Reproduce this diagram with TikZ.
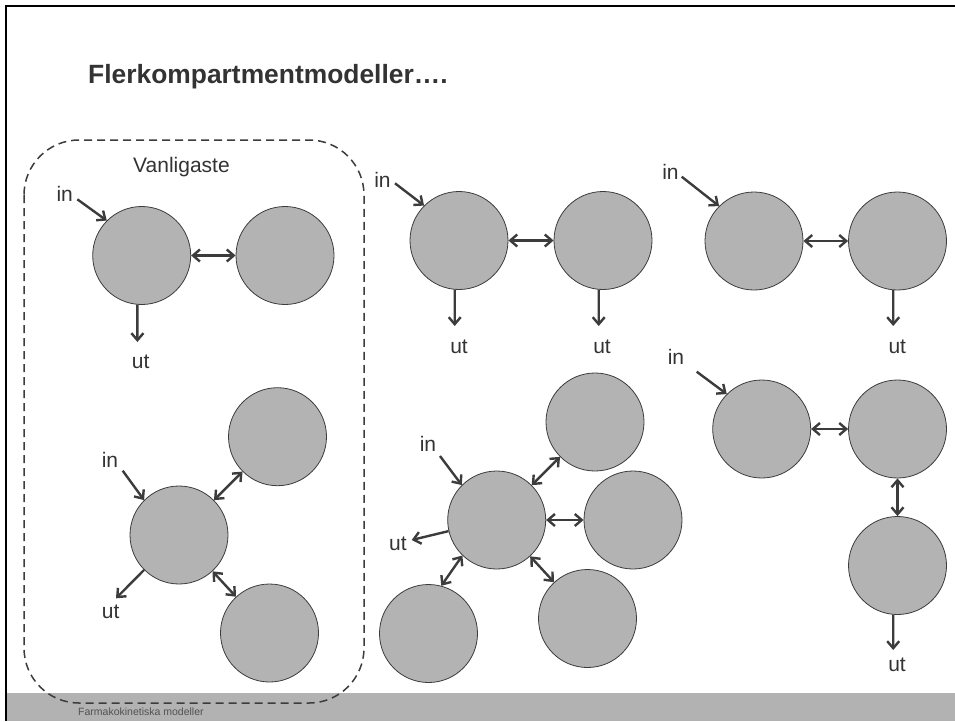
\documentclass[tikz,border=0pt]{standalone}
\usepackage{fontspec}
\setmainfont{Liberation Sans}
\usetikzlibrary{arrows.meta}
\definecolor{cfill}{HTML}{B2B3B2}
\definecolor{cline}{HTML}{3C3C3C}
\definecolor{ctext}{HTML}{333333}
\definecolor{band}{HTML}{B2B2B2}
\begin{document}
\begin{tikzpicture}[x=1pt,y=-1pt,
 comp/.style={circle,draw=cline,line width=0.8pt,fill=cfill,minimum size=98pt,inner sep=0pt},
 lbl/.style={text=ctext,font=\fontsize{21}{25}\selectfont,anchor=base,inner sep=0pt},
 flow/.style={draw=cline,line width=2.4pt,-{Straight Barb[length=7pt,width=12pt]}},
 xchg/.style={draw=cline,line width=2.4pt,{Straight Barb[length=7pt,width=12pt]}-{Straight Barb[length=7pt,width=12pt]}},
]
\useasboundingbox (0,0) rectangle (955,721);
% frame and footer band
\fill[band] (7,693) rectangle (955,721);
\draw[black,line width=2.5pt] (955,6) -- (6,6) -- (6,721);
\draw[cline,line width=1.5pt,dash pattern=on 8pt off 5pt,rounded corners=55pt] (24,140) rectangle (364,703);
\node[anchor=base west,font=\fontsize{26.4}{30}\selectfont\bfseries,text=ctext,inner sep=0pt] (title) at (88,83) {Flerkompartmentmodeller….};
\node[anchor=base west,font=\fontsize{10.5}{12}\selectfont,text=ctext!85,inner sep=0pt] (foot) at (78,715) {Farmakokinetiska modeller};

% group A
\node[comp] (a1) at (141.7,255.5) {};
\node[comp] (a2) at (285,255.5) {};
\node[lbl] (av) at (181.5,172) {Vanligaste};
\node[lbl] (ain) at (64.7,201.5) {in};
\coordinate (ains) at (77.3,199.3);
\draw[flow] (ains) -- (a1.135);
\draw[xchg] (a1) -- (a2);
\coordinate (aout) at (137.4,342);
\draw[flow] (a1.265) -- (aout);
\node[lbl] (aut) at (140.7,368) {ut};

% group B
\node[comp] (b1) at (459,240.5) {};
\node[comp] (b2) at (603,240.5) {};
\node[lbl] (bin) at (382.5,187) {in};
\coordinate (bins) at (395,183.3);
\draw[flow] (bins) -- (b1.135);
\draw[xchg] (b1) -- (b2);
\coordinate (b1o) at (454.7,326);
\draw[flow] (b1.265) -- (b1o);
\node[lbl] (b1ut) at (459,353) {ut};
\coordinate (b2o) at (598.7,326);
\draw[flow] (b2.265) -- (b2o);
\node[lbl] (b2ut) at (602,353) {ut};

% group C
\node[comp] (c1) at (754,241) {};
\node[comp] (c2) at (897.5,241) {};
\node[lbl] (cin) at (670.5,179) {in};
\coordinate (cins) at (681.7,176.7);
\draw[flow] (cins) -- (c1.135);
\draw[xchg] (c1) -- (c2);
\coordinate (c2o) at (893.2,326);
\draw[flow] (c2.265) -- (c2o);
\node[lbl] (c2ut) at (897.3,353) {ut};

% group D
\node[comp] (d1) at (761.7,429) {};
\node[comp] (d2) at (897.5,429) {};
\node[comp] (d3) at (897.5,565.5) {};
\node[lbl] (din) at (676,364) {in};
\coordinate (dins) at (696.7,371.7);
\draw[flow] (dins) -- (d1.135);
\draw[xchg] (d1) -- (d2);
\draw[xchg] (d2) -- (d3);
\coordinate (d3o) at (893.2,650);
\draw[flow] (d3.265) -- (d3o);
\node[lbl] (d3ut) at (897,671) {ut};

% group E
\node[comp] (e0) at (496.7,520) {};
\node[comp] (e1) at (595,422) {};
\node[comp] (e2) at (633,520) {};
\node[comp] (e3) at (587.5,618.5) {};
\node[comp] (e4) at (428.5,633.5) {};
\node[lbl] (ein) at (428,451.5) {in};
\coordinate (eins) at (440,456);
\draw[flow] (eins) -- (e0.135);
\coordinate (eo) at (411.7,540);
\draw[flow] (e0.193) -- (eo);
\node[lbl] (eut) at (398,550) {ut};
\draw[xchg] (e0) -- (e1);
\draw[xchg] (e0) -- (e2);
\draw[xchg] (e0) -- (e3);
\draw[xchg] (e0.226) -- (e4.75);

% group F
\node[comp] (f0) at (179,535) {};
\node[comp] (f1) at (277.5,436.7) {};
\node[comp] (f2) at (269.5,633) {};
\node[lbl] (fin) at (110,467) {in};
\coordinate (fins) at (122.7,470.7);
\draw[flow] (fins) -- (f0.135);
\coordinate (fo) at (116,598.3);
\draw[flow] (f0.225) -- (fo);
\node[lbl] (fut) at (110.7,618) {ut};
\draw[xchg] (f0) -- (f1);
\draw[xchg] (f0) -- (f2);
\end{tikzpicture}
\end{document}
